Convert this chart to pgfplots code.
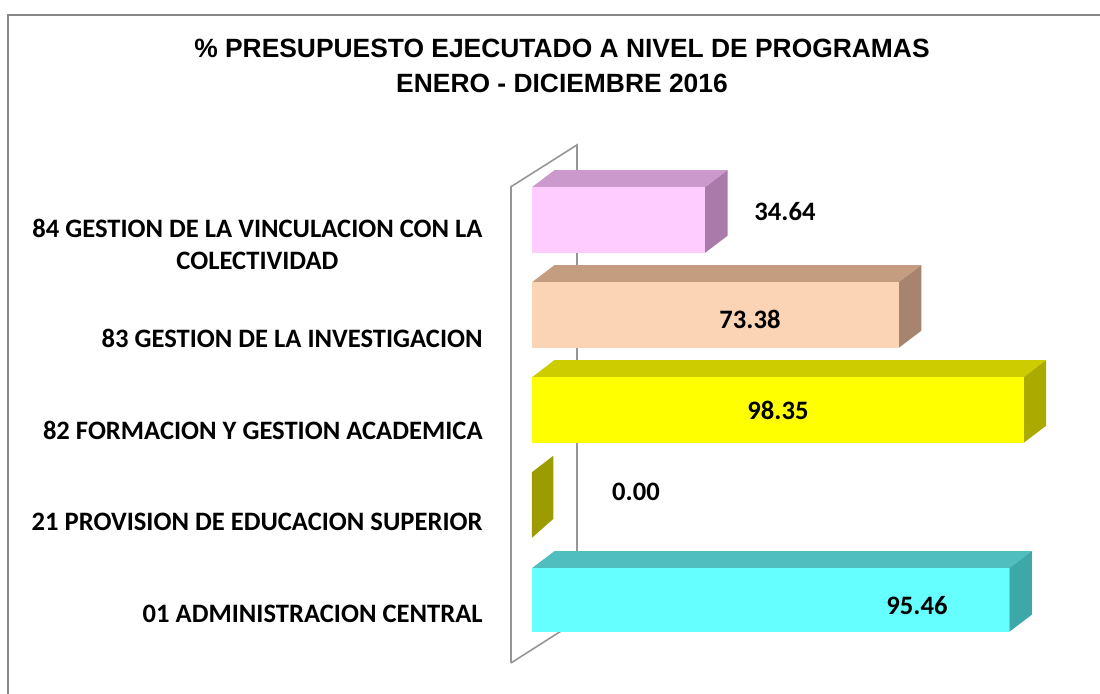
\documentclass[border=0pt]{standalone}
\usepackage{pgfplots}
\pgfplotsset{compat=1.18}
\usepackage{fontspec}
\setmainfont{Carlito}
\newfontfamily\titlefont{Liberation Sans}
\definecolor{pinkF}{RGB}{255,204,255}
\definecolor{pinkT}{RGB}{204,153,204}
\definecolor{pinkS}{RGB}{170,122,170}
\definecolor{peachF}{RGB}{250,212,180}
\definecolor{peachT}{RGB}{196,156,128}
\definecolor{peachS}{RGB}{166,132,110}
\definecolor{yelF}{RGB}{255,255,0}
\definecolor{yelT}{RGB}{204,204,0}
\definecolor{yelS}{RGB}{170,170,0}
\definecolor{cyanF}{RGB}{102,255,255}
\definecolor{cyanT}{RGB}{80,190,190}
\definecolor{cyanS}{RGB}{60,168,168}
\definecolor{wallc}{RGB}{150,150,150}
\begin{document}
\begin{tikzpicture}
\useasboundingbox (0,0) rectangle (550pt,347pt);
% outer frame
\draw[wallc!90!black, line width=1.2pt] (4pt,0) -- (4pt,339.5pt) -- (550pt,339.5pt);
% title
\node[font=\titlefont\bfseries\fontsize{13.2}{15}\selectfont] at (281pt,323pt) {\% PRESUPUESTO EJECUTADO A NIVEL DE PROGRAMAS};
\node[font=\titlefont\bfseries\fontsize{13.2}{15}\selectfont] at (281pt,305.5pt) {ENERO - DICIEMBRE 2016};
\begin{axis}[
  anchor=origin, at={(266pt,47pt)},
  x=2.5pt, y=47.5pt,
  xmin=-12, xmax=110, ymin=-1, ymax=5.2,
  axis lines=none, clip=false,
  ticks=none,
]
% back wall
\addplot[draw=wallc, line width=0.8pt] coordinates {(-4.2,-0.663) (-4.2,4.35) (9.0,4.79) (9.0,-0.22)};
\addplot[draw=wallc, line width=0.8pt] coordinates {(-4.2,-0.663) (9.0,-0.22)};
% 84  (34.64) at y=4
\addplot[fill=pinkT, draw=none] coordinates {(0,4.345) (34.64,4.345) (39.14,4.525) (4.5,4.525)} -- cycle;
\addplot[fill=pinkS, draw=none] coordinates {(34.64,3.655) (39.14,3.835) (39.14,4.525) (34.64,4.345)} -- cycle;
\addplot[fill=pinkF, draw=none] coordinates {(0,3.655) (34.64,3.655) (34.64,4.345) (0,4.345)} -- cycle;
% 83  (73.38) at y=3
\addplot[fill=peachT, draw=none] coordinates {(0,3.345) (73.38,3.345) (77.88,3.525) (4.5,3.525)} -- cycle;
\addplot[fill=peachS, draw=none] coordinates {(73.38,2.655) (77.88,2.835) (77.88,3.525) (73.38,3.345)} -- cycle;
\addplot[fill=peachF, draw=none] coordinates {(0,2.655) (73.38,2.655) (73.38,3.345) (0,3.345)} -- cycle;
% 82  (98.35) at y=2
\addplot[fill=yelT, draw=none] coordinates {(0,2.345) (98.35,2.345) (102.85,2.525) (4.5,2.525)} -- cycle;
\addplot[fill=yelS, draw=none] coordinates {(98.35,1.655) (102.85,1.835) (102.85,2.525) (98.35,2.345)} -- cycle;
\addplot[fill=yelF, draw=none] coordinates {(0,1.655) (98.35,1.655) (98.35,2.345) (0,2.345)} -- cycle;
% 21  (0.00) at y=1
\addplot[fill=yelS!92!black, draw=none] coordinates {(0.00,0.655) (4.3,0.855) (4.3,1.52) (0.00,1.345)} -- cycle;
% 01  (95.46) at y=0
\addplot[fill=cyanT, draw=none] coordinates {(0,0.335) (95.46,0.335) (99.96,0.515) (4.5,0.515)} -- cycle;
\addplot[fill=cyanS, draw=none] coordinates {(95.46,-0.335) (99.96,-0.155) (99.96,0.515) (95.46,0.335)} -- cycle;
\addplot[fill=cyanF, draw=none] coordinates {(0,-0.335) (95.46,-0.335) (95.46,0.335) (0,0.335)} -- cycle;
% value labels
\begin{scope}[every node/.style={font=\bfseries\fontsize{13.3}{16}\selectfont}]
\node at (axis cs:50.6,4.084) {34.64};
\node at (axis cs:43.6,2.95) {73.38};
\node at (axis cs:49.2,2.0) {98.35};
\node at (axis cs:20.8,1.137) {0.00};
\node at (axis cs:77,-0.063) {95.46};
\end{scope}
% category labels
\begin{scope}[every node/.style={font=\bfseries\fontsize{13.3}{16}\selectfont, anchor=east, align=center, inner sep=0pt}]
\node at (axis cs:-9.8,3.747) {84 GESTION DE LA VINCULACION CON LA\\COLECTIVIDAD};
\node at (axis cs:-9.8,2.758) {83 GESTION DE LA INVESTIGACION};
\node at (axis cs:-9.8,1.789) {82 FORMACION Y GESTION ACADEMICA};
\node at (axis cs:-9.8,0.821) {21 PROVISION DE EDUCACION SUPERIOR};
\node at (axis cs:-9.8,-0.147) {01 ADMINISTRACION CENTRAL};
\end{scope}
\end{axis}
\end{tikzpicture}
\end{document}
